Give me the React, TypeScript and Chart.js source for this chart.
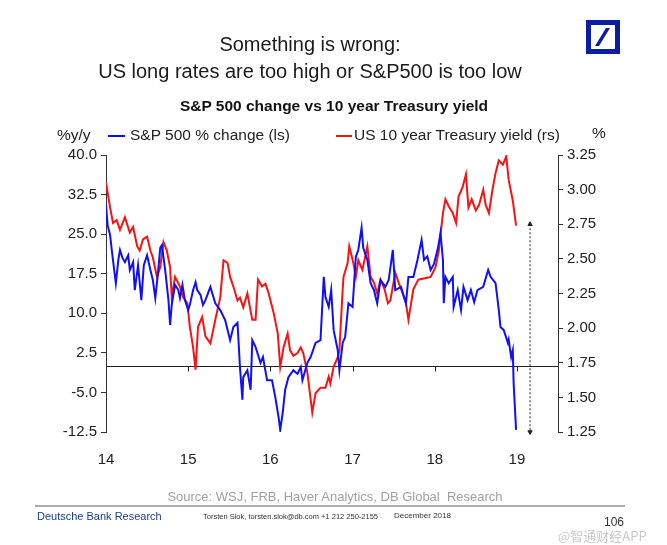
import React, { useEffect, useRef } from "react";
import { Chart, registerables } from "chart.js";

Chart.register(...registerables);

// ---------- data ----------
const yearTicks = [2014, 2015, 2016, 2017, 2018, 2019];

const spDates = [
  2014.0, 2014.02, 2014.05, 2014.07, 2014.1, 2014.12, 2014.15, 2014.17, 2014.2, 2014.23,
  2014.27, 2014.29, 2014.33, 2014.35, 2014.39, 2014.43, 2014.46, 2014.5, 2014.54, 2014.57,
  2014.6, 2014.63, 2014.66, 2014.68, 2014.72, 2014.76, 2014.78, 2014.8, 2014.84, 2014.88,
  2014.9, 2014.93, 2014.96, 2015.0, 2015.02, 2015.06, 2015.09, 2015.11, 2015.15, 2015.18,
  2015.21, 2015.27, 2015.33, 2015.39, 2015.45, 2015.51, 2015.55, 2015.6, 2015.61, 2015.63,
  2015.66, 2015.67, 2015.72, 2015.76, 2015.78, 2015.82, 2015.88, 2015.91, 2015.96, 2016.02,
  2016.06, 2016.1, 2016.12, 2016.15, 2016.18, 2016.22, 2016.28, 2016.33, 2016.37, 2016.39,
  2016.45, 2016.49, 2016.55, 2016.61, 2016.65, 2016.67, 2016.71, 2016.74, 2016.77, 2016.82,
  2016.84, 2016.88, 2016.91, 2016.95, 2017.0, 2017.04, 2017.07, 2017.11, 2017.13, 2017.18,
  2017.22, 2017.26, 2017.3, 2017.34, 2017.4, 2017.44, 2017.49, 2017.52, 2017.59, 2017.65,
  2017.68, 2017.74, 2017.79, 2017.84, 2017.87, 2017.91, 2017.95, 2017.99, 2018.04, 2018.07,
  2018.1, 2018.11, 2018.13, 2018.17, 2018.22, 2018.23, 2018.28, 2018.32, 2018.35, 2018.4,
  2018.44, 2018.48, 2018.52, 2018.59, 2018.65, 2018.68, 2018.74, 2018.78, 2018.8, 2018.84,
  2018.89, 2018.9, 2018.93, 2018.95, 2018.96, 2018.99,
];
const spChange = [
  30.5, 26.7, 24.8, 22.0, 18.2, 15.7, 20.1, 22.0, 20.5, 19.7,
  21.0, 18.2, 19.7, 14.4, 19.1, 12.5, 19.1, 21.0, 18.2, 16.3,
  12.9, 17.2, 22.4, 22.9, 18.2, 12.5, 7.8, 11.6, 15.4, 14.4,
  12.9, 15.4, 12.5, 10.6, 11.6, 14.4, 15.9, 14.4, 13.5, 11.6,
  12.5, 15.0, 11.9, 10.6, 8.7, 4.9, 7.4, 8.2, 5.5, -0.2,
  -6.4, -2.1, -0.8, -4.5, 4.9, 3.6, 0.6, 1.7, -2.7, -2.7,
  -5.9, -9.7, -12.1, -8.9, -4.5, -2.1, -0.8, -1.5, -0.2, -2.7,
  0.6, 1.7, 4.4, 4.9, 16.9, 13.1, 11.2, 14.4, 6.8, 3.0,
  -0.8, 4.4, 5.5, 11.9, 11.2, 20.7, 22.0, 26.2, 22.4, 20.1,
  15.7, 14.4, 11.9, 16.3, 15.0, 16.3, 22.0, 14.4, 15.0, 11.9,
  16.9, 16.9, 20.1, 23.9, 20.1, 20.8, 18.2, 19.3, 22.4, 25.2,
  20.1, 11.9, 16.9, 15.7, 16.9, 11.2, 14.4, 10.6, 15.0, 12.5,
  14.4, 12.1, 14.4, 15.0, 18.2, 16.9, 15.7, 10.6, 7.4, 6.8,
  4.4, 5.0, 1.7, 3.0, -3.2, -12.1,
];

const ustDates = [
  2014.0, 2014.05, 2014.085, 2014.13, 2014.17, 2014.23, 2014.29, 2014.33, 2014.38, 2014.41,
  2014.45, 2014.5, 2014.54, 2014.57, 2014.62, 2014.66, 2014.7, 2014.74, 2014.78, 2014.8,
  2014.84, 2014.9, 2014.94, 2014.99, 2015.02, 2015.06, 2015.09, 2015.12, 2015.17, 2015.21,
  2015.27, 2015.33, 2015.39, 2015.43, 2015.48, 2015.51, 2015.55, 2015.6, 2015.63, 2015.67,
  2015.72, 2015.78, 2015.82, 2015.85, 2015.9, 2015.94, 2015.98, 2016.04, 2016.09, 2016.12,
  2016.16, 2016.21, 2016.24, 2016.28, 2016.33, 2016.37, 2016.4, 2016.45, 2016.51, 2016.55,
  2016.61, 2016.67, 2016.71, 2016.73, 2016.77, 2016.82, 2016.84, 2016.88, 2016.89, 2016.94,
  2016.96, 2017.01, 2017.04, 2017.07, 2017.12, 2017.18, 2017.22, 2017.26, 2017.3, 2017.34,
  2017.39, 2017.43, 2017.46, 2017.52, 2017.56, 2017.61, 2017.65, 2017.68, 2017.74, 2017.8,
  2017.88, 2017.95, 2018.01, 2018.05, 2018.1, 2018.13, 2018.17, 2018.22, 2018.26, 2018.29,
  2018.34, 2018.38, 2018.41, 2018.45, 2018.5, 2018.54, 2018.59, 2018.62, 2018.66, 2018.7,
  2018.74, 2018.78, 2018.83, 2018.87, 2018.9, 2018.95, 2018.99,
];
const ustYield = [
  3.05, 2.87, 2.76, 2.78, 2.71, 2.8, 2.69, 2.73, 2.59, 2.56,
  2.64, 2.66, 2.56, 2.51, 2.37, 2.44, 2.62, 2.56, 2.44, 2.22,
  2.37, 2.3, 2.22, 2.18, 2.01, 1.86, 1.7, 2.01, 2.08, 1.94,
  1.89, 2.06, 2.22, 2.49, 2.47, 2.37, 2.3, 2.2, 2.22, 2.15,
  2.25, 2.06, 2.06, 2.35, 2.3, 2.32, 2.25, 2.11, 1.96, 1.72,
  1.86, 1.96, 1.84, 1.8, 1.82, 1.86, 1.82, 1.68, 1.39, 1.53,
  1.57, 1.57, 1.65, 1.6, 1.72, 1.79, 1.84, 2.28, 2.37, 2.47,
  2.59, 2.47, 2.37, 2.49, 2.42, 2.59, 2.37, 2.33, 2.25, 2.35,
  2.28, 2.18, 2.2, 2.4, 2.33, 2.25, 2.18, 2.06, 2.28, 2.35,
  2.36, 2.37, 2.44, 2.56, 2.83, 2.93, 2.88, 2.83, 2.76, 2.95,
  3.02, 3.11, 2.87, 2.93, 2.85, 2.89, 3.0, 2.89, 2.83, 2.99,
  3.12, 3.21, 3.18, 3.24, 3.07, 2.92, 2.74,
];

const gapMarkerDate = 2019.16;
const gapMarkerYields = [2.75, 1.25];

// ---------- chart ----------
const FONT = "'Liberation Sans', Arial, sans-serif";

const zeroLinePlugin = {
  id: "zeroLine",
  beforeDatasetsDraw(chart: any) {
    const { ctx, chartArea, scales } = chart;
    const y0 = Math.round(scales.y.getPixelForValue(0)) + 0.5;
    ctx.save();
    ctx.strokeStyle = "#222";
    ctx.lineWidth = 1;
    ctx.beginPath();
    ctx.moveTo(chartArea.left, y0);
    ctx.lineTo(chartArea.right, y0);
    yearTicks.slice(1).forEach((yr) => {
      const x = Math.round(scales.x.getPixelForValue(yr)) + 0.5;
      ctx.moveTo(x, y0);
      ctx.lineTo(x, y0 + 5);
    });
    ctx.stroke();
    ctx.restore();
  },
};

function ChartCanvas() {
  const ref = useRef<HTMLCanvasElement | null>(null);
  useEffect(() => {
    if (!ref.current) return;
    const tickFont = { family: FONT, size: 15 };
    const chart = new Chart(ref.current, {
      type: "line",
      data: {
        datasets: [
          {
            label: "S&P 500 % change (ls)",
            data: spDates.map((d, i) => ({ x: d, y: spChange[i] })),
            yAxisID: "y",
            borderColor: "#1010f4",
            borderWidth: 2,
            pointRadius: 0,
            tension: 0,
          },
          {
            label: "US 10 year Treasury yield (rs)",
            data: ustDates.map((d, i) => ({ x: d, y: ustYield[i] })),
            yAxisID: "y2",
            borderColor: "#f41414",
            borderWidth: 2,
            pointRadius: 0,
            tension: 0,
          },
          {
            label: "gap",
            data: gapMarkerYields.map((v) => ({ x: gapMarkerDate, y: v })),
            yAxisID: "y2",
            borderColor: "#222",
            borderWidth: 1,
            borderDash: [2, 2],
            pointStyle: "triangle",
            pointRadius: 2.5,
            pointRotation: [0, 180],
            pointBackgroundColor: "#222",
            pointBorderColor: "#222",
            clip: false,
          } as any,
        ],
      },
      options: {
        responsive: false,
        animation: false,
        devicePixelRatio: 1,
        layout: { padding: { left: 0, right: 0, top: 155, bottom: 73 } },
        plugins: { legend: { display: false }, tooltip: { enabled: false } },
        scales: {
          x: {
            type: "linear",
            min: 2014,
            max: 2019.5,
            afterBuildTicks: (s: any) => {
              s.ticks = yearTicks.map((v) => ({ value: v }));
            },
            afterFit: (s: any) => {
              s.height = 40;
            },
            grid: { display: false },
            border: { display: false },
            ticks: {
              font: tickFont,
              color: "#222",
              padding: 11,
              maxRotation: 0,
              callback: (v: any) => String(Number(v) - 2000),
            },
          },
          y: {
            position: "left",
            min: -12.5,
            max: 40,
            afterFit: (s: any) => {
              s.width = 106;
            },
            grid: { drawOnChartArea: false, drawTicks: true, tickLength: 5, color: "#333" },
            border: { display: true, color: "#333" },
            ticks: {
              stepSize: 7.5,
              font: tickFont,
              color: "#222",
              padding: 4,
              callback: (v: any) => Number(v).toFixed(1),
            },
          },
          y2: {
            position: "right",
            min: 1.25,
            max: 3.25,
            afterFit: (s: any) => {
              s.width = 109;
            },
            grid: { drawOnChartArea: false, drawTicks: true, tickLength: 5, color: "#333" },
            border: { display: true, color: "#333" },
            ticks: {
              stepSize: 0.25,
              font: tickFont,
              color: "#222",
              padding: 4,
              callback: (v: any) => Number(v).toFixed(2),
            },
          },
        },
      } as any,
      plugins: [zeroLinePlugin],
    });
    return () => chart.destroy();
  }, []);
  return (
    <canvas
      ref={ref}
      width={667}
      height={545}
      style={{ position: "absolute", left: 0, top: 0, width: 667, height: 545 }}
    />
  );
}

const abs = (s: React.CSSProperties): React.CSSProperties => ({
  position: "absolute",
  whiteSpace: "nowrap",
  fontFamily: FONT,
  ...s,
});

export default function App() {
  return (
    <div
      style={{
        position: "absolute",
        left: 0,
        top: 0,
        width: 667,
        height: 545,
        background: "#fff",
        overflow: "hidden",
      }}
    >
      <ChartCanvas />
      {/* slide title */}
      <div style={abs({ left: 10, width: 600, top: 31, fontSize: 20, lineHeight: "26px", textAlign: "center", color: "#1a1a1a" })}>
        Something is wrong:
      </div>
      <div style={abs({ left: 10, width: 600, top: 58, fontSize: 20, lineHeight: "26px", textAlign: "center", color: "#1a1a1a" })}>
        US long rates are too high or S&amp;P500 is too low
      </div>
      {/* logo */}
      <svg style={{ position: "absolute", left: 586, top: 20 }} width={34} height={34} viewBox="0 0 34 34">
        <rect x={2.5} y={2.5} width={29} height={29} fill="none" stroke="#0a1fa0" strokeWidth={5} />
        <polygon points="9,26 13,26 24,8 20,8" fill="#0a1fa0" />
      </svg>
      {/* chart title */}
      <div style={abs({ left: 34, width: 600, top: 97, fontSize: 15.5, lineHeight: "18px", textAlign: "center", fontWeight: "bold", color: "#111" })}>
        S&amp;P 500 change vs 10 year Treasury yield
      </div>
      {/* legend + units */}
      <div style={abs({ left: 57, top: 126, fontSize: 15.5, lineHeight: "18px", color: "#222" })}>%y/y</div>
      <div style={{ position: "absolute", left: 108, top: 135, width: 17, height: 2, background: "#1010f4" }} />
      <div style={abs({ left: 130, top: 126, fontSize: 15.5, lineHeight: "18px", color: "#222" })}>S&amp;P 500 % change (ls)</div>
      <div style={{ position: "absolute", left: 336, top: 135, width: 16, height: 2, background: "#f41414" }} />
      <div style={abs({ left: 354, top: 126, fontSize: 15.5, lineHeight: "18px", color: "#222" })}>US 10 year Treasury yield (rs)</div>
      <div style={abs({ left: 592, top: 124, fontSize: 15.5, lineHeight: "18px", color: "#222" })}>%</div>
      {/* footer */}
      <div style={abs({ left: 35, width: 600, top: 489, fontSize: 13, lineHeight: "16px", textAlign: "center", color: "#a0a0a0" })}>
        Source: WSJ, FRB, Haver Analytics, DB Global&nbsp; Research
      </div>
      <div style={{ position: "absolute", left: 35, top: 505, width: 590, height: 2, background: "#a8adb5" }} />
      <div style={abs({ left: 37, top: 510, fontSize: 11, lineHeight: "13px", color: "#1a3c8c" })}>Deutsche Bank Research</div>
      <div style={abs({ left: 203, top: 512, fontSize: 7.5, lineHeight: "10px", color: "#333" })}>
        Torsten Slok, torsten.slok@db.com +1 212 250-2155
      </div>
      <div style={abs({ left: 394, top: 511, fontSize: 8, lineHeight: "10px", color: "#333" })}>December 2018</div>
      <div style={abs({ left: 604, top: 515, fontSize: 12, lineHeight: "14px", color: "#333" })}>106</div>
      <div style={abs({ left: 558, top: 528, fontSize: 13, lineHeight: "16px", color: "#c8c8c8", fontFamily: "'Noto Sans CJK SC', sans-serif" })}>
        @智通财经APP
      </div>
    </div>
  );
}
